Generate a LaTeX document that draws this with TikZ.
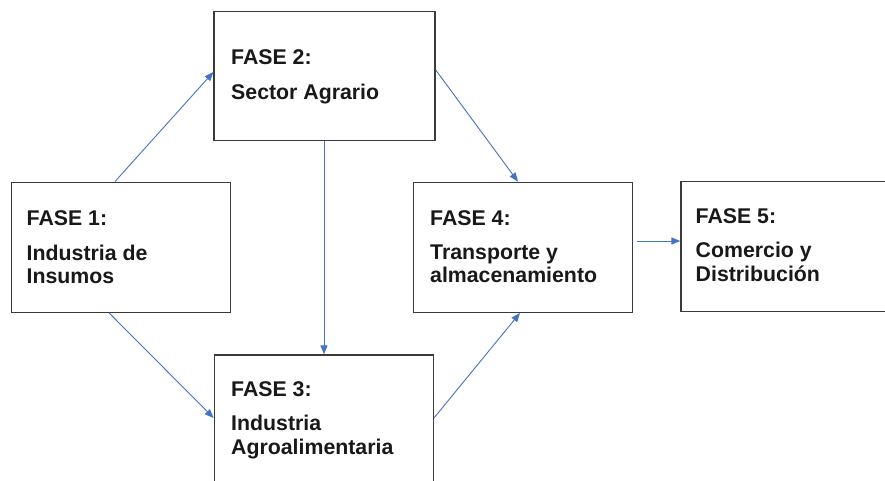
\documentclass[tikz,border=0pt]{standalone}
\usepackage{fontspec}
\setmainfont{Liberation Sans}
\usetikzlibrary{arrows.meta}
\definecolor{arrowblue}{HTML}{4472C4}
\definecolor{boxline}{HTML}{3A3A3A}
\tikzset{
  phasebox/.style={draw=boxline, line width=1.3pt, fill=white, rectangle, inner sep=0pt},
  lbl/.style={anchor=base west, inner sep=0pt, font=\fontsize{21.3}{24}\selectfont\bfseries, text=black!90},
  flow/.style={draw=arrowblue, line width=0.9pt, -{Triangle[length=9pt,width=7pt]}}
}
\begin{document}
\begin{tikzpicture}[x=1pt,y=-1pt]
\useasboundingbox (0,0) rectangle (885,481);
\clip (0,0) rectangle (885,481);
% boxes
\node[phasebox, minimum width=219pt, minimum height=130pt] (b1) at (121.2,247.2) {};
\node[phasebox, minimum width=221pt, minimum height=129pt] (b2) at (324.6,76.2) {};
\node[phasebox, minimum width=219pt, minimum height=140pt] (b3) at (323.8,425) {};
\node[phasebox, minimum width=219pt, minimum height=130pt] (b4) at (523,247.3) {};
\node[phasebox, minimum width=220pt, minimum height=130pt] (b5) at (791,246.7) {};
% labels
\node[lbl] (t1a) at (26.5,225) {FASE 1:};
\node[lbl] (t1b) at (26.5,260) {Industria de};
\node[lbl] (t1c) at (26.5,283) {Insumos};
\node[lbl] (t2a) at (231,64.3) {FASE 2:};
\node[lbl] (t2b) at (231,99.3) {Sector Agrario};
\node[lbl] (t3a) at (231,396.7) {FASE 3:};
\node[lbl] (t3b) at (231,430.7) {Industria};
\node[lbl] (t3c) at (231,454.5) {Agroalimentaria};
\node[lbl] (t4a) at (430,225) {FASE 4:};
\node[lbl] (t4b) at (430,259.3) {Transporte y};
\node[lbl] (t4c) at (430,282.7) {almacenamiento};
\node[lbl] (t5a) at (695.5,223.3) {FASE 5:};
\node[lbl] (t5b) at (695.5,257.3) {Comercio y};
\node[lbl] (t5c) at (695.5,281) {Distribución};
% arrows
\draw[flow] (b1.north -| 115,0) -- (b2.west |- 0,72);
\draw[flow] (b1.south -| 109,0) -- (b3.west |- 0,418);
\draw[flow] (b2.south -| 324,0) -- (b3.north -| 324,0);
\draw[flow] (b2.east |- 0,70) -- (b4.north -| 518,0);
\draw[flow] (b3.east |- 0,418) -- (b4.south -| 520,0);
\draw[flow] (b4.east |- 0,241) ++(4,0) coordinate (c45) -- (b5.west |- 0,241);
\end{tikzpicture}
\end{document}
